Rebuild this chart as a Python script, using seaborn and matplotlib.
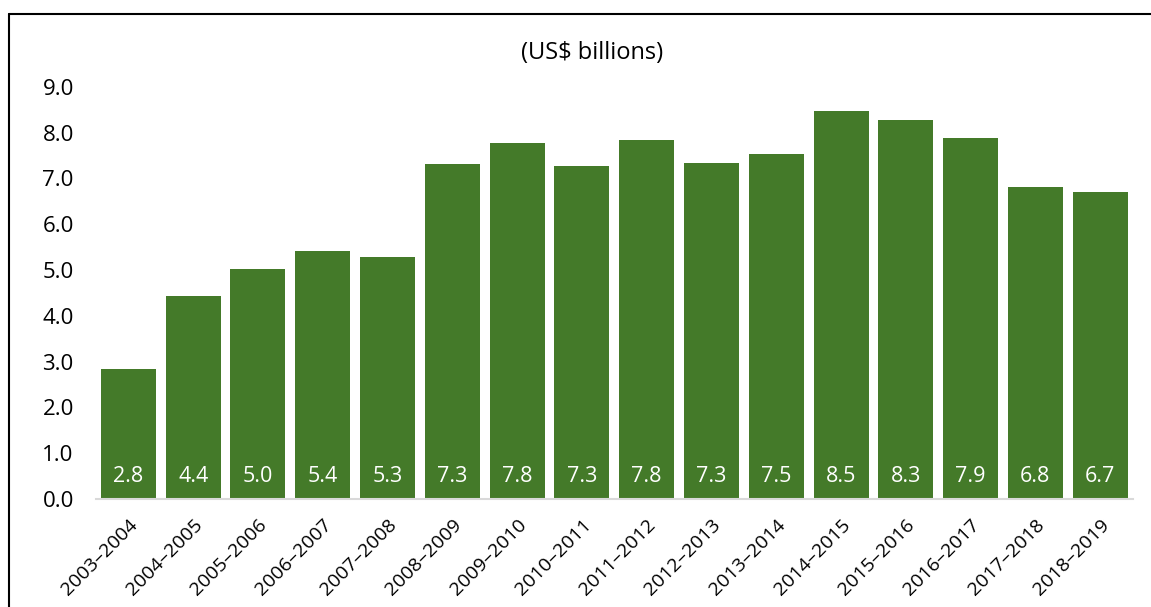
import numpy as np
import pandas as pd
import seaborn as sns
import matplotlib
matplotlib.use('Agg')
from matplotlib import pyplot as plt
from matplotlib.lines import Line2D

# fiscal years and values (US$ billions)
years = ['2003–2004', '2004–2005', '2005–2006', '2006–2007', '2007–2008',
         '2008–2009', '2009–2010', '2010–2011', '2011–2012', '2012–2013',
         '2013–2014', '2014–2015', '2015–2016', '2016–2017', '2017–2018',
         '2018–2019']
values = [2.83, 4.43, 5.02, 5.41, 5.28, 7.31, 7.77, 7.27, 7.84, 7.34,
          7.54, 8.47, 8.28, 7.88, 6.81, 6.70]
yticks = [0, 1, 2, 3, 4, 5, 6, 7, 8, 9]

df = pd.DataFrame({'year': years, 'value': values})

sns.set_style('white')
plt.rcParams['font.family'] = ['Open Sans', 'DejaVu Sans']

fig = plt.figure(figsize=(11.51, 6.07), dpi=100)
ax = fig.add_axes([0.0834, 0.178, 0.9006, 0.679])
sns.barplot(data=df, x='year', y='value', color='#447A29', saturation=1,
            width=0.85, edgecolor='none', ax=ax)

# value labels near the bottom of each bar
for i, v in enumerate(values):
    ax.text(i, 0.5, f'{v:.1f}', ha='center', va='center', color='white', fontsize=15.5)

ax.set_ylim(0, 9)
ax.set_xlim(-0.5, len(years) - 0.5)
ax.set_yticks(yticks)
ax.set_yticklabels([f'{t:.1f}' for t in yticks], fontsize=16, color='black')
ax.set_xticks(range(len(years)))
ax.set_xticklabels(years, rotation=45, ha='right', rotation_mode='anchor',
                   fontsize=14, color='black')
ax.tick_params(axis='y', length=0, pad=16)
ax.tick_params(axis='x', length=0, pad=12)
ax.set_xlabel('')
ax.set_ylabel('')
for s in ['top', 'right', 'left']:
    ax.spines[s].set_visible(False)
ax.spines['bottom'].set_color('#d9d9d9')
ax.spines['bottom'].set_linewidth(1.5)

fig.text(0.514, 1 - 53 / 607, '(US$ billions)', ha='center', va='center',
         fontsize=17, color='black')

# outer frame (top and left edges visible)
fig.add_artist(Line2D([9 / 1151, 1.0], [1 - 14 / 607, 1 - 14 / 607], color='black', lw=1.5))
fig.add_artist(Line2D([9 / 1151, 9 / 1151], [0, 1 - 14 / 607], color='black', lw=1.5))

fig.savefig('out.png', dpi=100)
